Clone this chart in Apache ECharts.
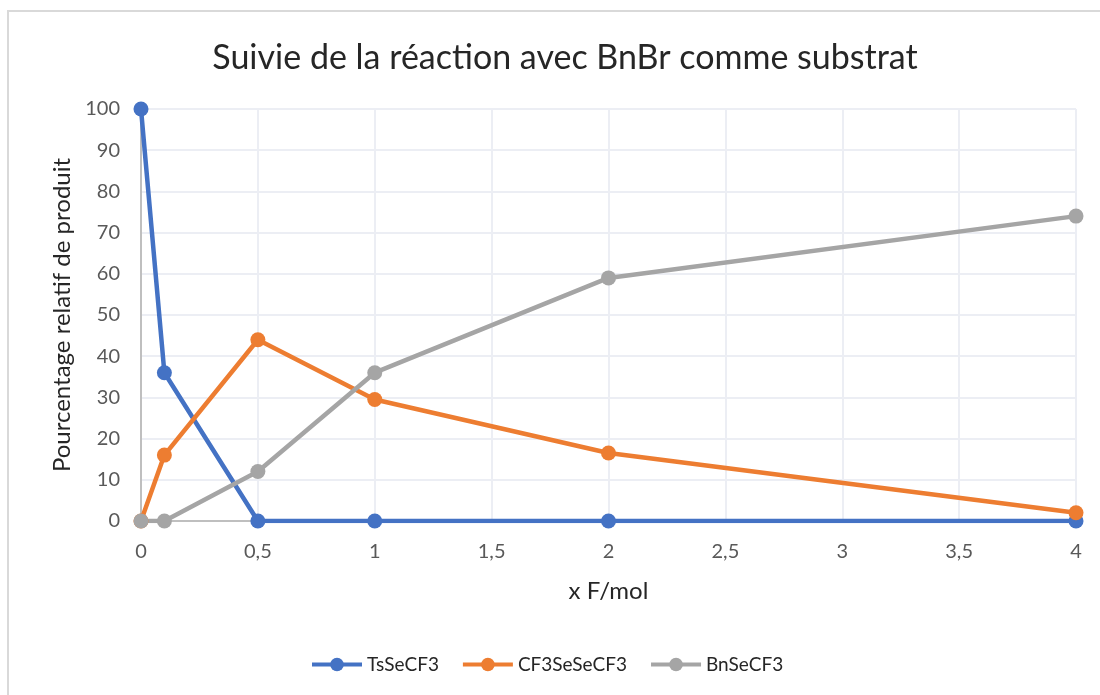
<!DOCTYPE html>
<html>
<head>
<meta charset="utf-8">
<script src="https://cdn.jsdelivr.net/npm/echarts@6/dist/echarts.min.js"></script>
<style>
  html, body { margin: 0; padding: 0; background: #ffffff; }
  #chart { width: 1100px; height: 695px; }
</style>
</head>
<body>
<div id="chart"></div>
<script>
// x F/mol values where samples were taken
const xValues = [0, 0.1, 0.5, 1, 2, 4];
// Relative product percentages
const tsSeCF3 = [100, 36, 0, 0, 0, 0];
const cf3SeSeCF3 = [0, 16, 44, 29.5, 16.5, 2];
const bnSeCF3 = [0, 0, 12, 36, 59, 74];
const seriesNames = ['TsSeCF3', 'CF3SeSeCF3', 'BnSeCF3'];
const seriesColors = ['#4472C4', '#ED7D31', '#A5A5A5'];

const FONT = 'Lato, "Open Sans", sans-serif';
const pair = (ys) => xValues.map((x, i) => [x, ys[i]]);
const comma = (v) => String(v).replace('.', ',');

const chart = echarts.init(document.getElementById('chart'), null, { renderer: 'canvas' });

const makeSeries = (name, ys, color) => ({
  name,
  type: 'line',
  data: pair(ys),
  symbol: 'circle',
  symbolSize: 15,
  lineStyle: { width: 4.5, color },
  itemStyle: { color },
  emphasis: { disabled: true },
  animation: false
});

chart.setOption({
  backgroundColor: '#ffffff',
  color: seriesColors,
  textStyle: { fontFamily: FONT },
  title: {
    text: 'Suivie de la réaction avec BnBr comme substrat',
    left: 560,
    textAlign: 'center',
    top: 36,
    textStyle: { fontFamily: FONT, fontSize: 34, fontWeight: 'normal', color: '#262626' }
  },
  graphic: [{
    type: 'rect',
    shape: { x: 8, y: 11, width: 1200, height: 800 },
    style: { fill: 'none', stroke: '#d9d9d9', lineWidth: 2 },
    silent: true,
    z: -1
  }],
  legend: {
    top: 650,
    left: 305,
    itemWidth: 50,
    itemHeight: 17,
    itemGap: 22,
    lineStyle: { width: 4 },
    textStyle: { fontFamily: FONT, fontSize: 19, color: '#262626' },
    data: seriesNames
  },
  grid: { left: 141, right: 24, top: 109, bottom: 174, containLabel: false },
  xAxis: {
    type: 'value',
    min: 0,
    max: 4,
    interval: 0.5,
    name: 'x F/mol',
    nameLocation: 'middle',
    nameGap: 58,
    nameTextStyle: { fontFamily: FONT, fontSize: 24, color: '#262626' },
    axisLine: { show: true, lineStyle: { color: '#bfbfbf', width: 2 } },
    axisTick: { show: false },
    axisLabel: { margin: 21, fontSize: 20, color: '#595959', fontFamily: FONT, formatter: comma },
    splitLine: { show: true, lineStyle: { color: '#eceef4', width: 2 } }
  },
  yAxis: {
    type: 'value',
    min: 0,
    max: 100,
    interval: 10,
    name: 'Pourcentage relatif de produit',
    nameLocation: 'middle',
    nameGap: 67,
    nameTextStyle: { fontFamily: FONT, fontSize: 24, color: '#262626' },
    axisLine: { show: true, lineStyle: { color: '#bfbfbf', width: 2 } },
    axisTick: { show: false },
    axisLabel: { margin: 21, fontSize: 20, color: '#595959', fontFamily: FONT },
    splitLine: { show: true, lineStyle: { color: '#eceef4', width: 2 } }
  },
  series: [
    makeSeries(seriesNames[0], tsSeCF3, seriesColors[0]),
    makeSeries(seriesNames[1], cf3SeSeCF3, seriesColors[1]),
    makeSeries(seriesNames[2], bnSeCF3, seriesColors[2])
  ]
});
</script>
</body>
</html>
